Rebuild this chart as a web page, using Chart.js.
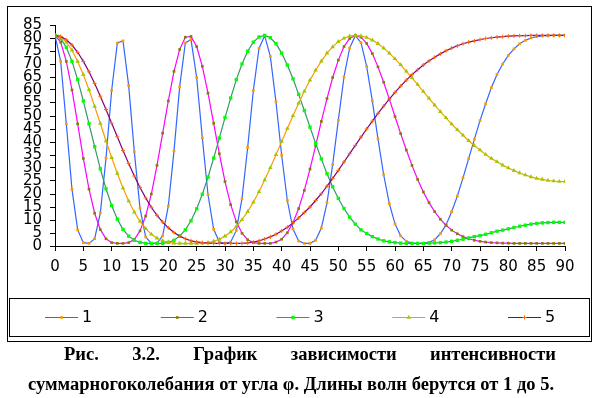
<!DOCTYPE html>
<html>
<head>
<meta charset="utf-8">
<title>Интенсивность суммарного колебания</title>
<script src="https://cdn.jsdelivr.net/npm/chart.js"></script>
<style>
  body { margin: 0; background: #fff; }
  #wrap { position: relative; width: 597px; height: 398px; overflow: hidden; }
  #box { position: absolute; left: 0; top: 0; width: 597px; height: 345px; }
  .cap { position: absolute; font-family: "Liberation Serif", "Times New Roman", serif; font-weight: bold; font-size: 18.5px; line-height: 20px; color: #000; white-space: nowrap; }
  #cap1 { left: 64px; width: 492px; top: 344px; text-align: justify; text-align-last: justify; }
  #cap2 { left: 28px; top: 374px; }
</style>
</head>
<body>
<div id="wrap">
  <div id="box"><canvas id="canvas"></canvas></div>
  <div class="cap" id="cap1">Рис. 3.2. График зависимости интенсивности</div>
  <div class="cap" id="cap2">суммарногоколебания от угла φ. Длины волн берутся от 1 до 5.</div>
</div>

<script>
// угол, градусы
const angles = [0,1,2,3,4,5,6,7,8,9,10,11,12,13,14,15,16,17,18,19,20,21,22,23,24,25,26,27,28,29,30,
  31,32,33,34,35,36,37,38,39,40,41,42,43,44,45,46,47,48,49,50,51,52,53,54,55,56,57,58,59,60,
  61,62,63,64,65,66,67,68,69,70,71,72,73,74,75,76,77,78,79,80,81,82,83,84,85,86,87,88,89,90]

const names = ['1', '2', '3', '4', '5']

// интенсивность для длин волн 1..5
const s1 = [81,71.0,46.9,21.8,6.2,1.3,1.0,2.8,12.7,33.8,
  59.9,78.1,78.9,61.7,36.2,14.6,3.5,1.0,1.1,3.9,
  15.4,36.6,61.2,78.1,79.4,64.8,41.6,19.8,6.4,1.5,
  1.0,1.5,6.0,18.2,37.9,59.8,76.0,80.9,72.9,55.4,
  34.9,17.5,6.5,1.9,1.0,1.0,2.2,6.9,16.6,31.3,
  48.4,65.0,76.2,80.9,78.2,69.1,55.8,41.2,27.4,16.3,
  8.5,3.9,1.8,1.1,1.0,1.0,1.4,2.4,4.7,8.1,
  13.2,19.2,26.2,33.6,41.0,48.2,54.7,60.9,66.0,70.0,
  73.3,75.8,77.8,79.1,80.0,80.5,80.8,80.9,81.0,81.0,81.0]

const s2 = [81,78.4,71.0,60.0,47.0,33.7,21.9,12.6,6.3,2.8,
  1.3,1.0,1.0,1.3,2.5,5.8,11.5,20.0,31.0,43.4,
  55.8,67.2,75.6,80.3,80.6,76.7,69.1,58.8,47.2,35.5,
  24.8,15.9,9.3,4.9,2.4,1.3,1.0,1.0,1.0,1.5,
  2.6,5.1,9.0,14.4,21.4,29.6,38.6,47.9,56.7,64.8,
  71.5,76.7,79.8,81.0,80.3,77.9,74.0,68.9,63.0,56.5,
  49.8,43.2,36.9,31.0,25.6,20.8,16.7,13.2,10.3,8.0,
  6.1,4.7,3.6,2.8,2.2,1.8,1.5,1.3,1.2,1.1,
  1.1,1.0,1.0,1.0,1.0,1.0,1.0,1.0,1.0,1.0,1.0]

const s3 = [81,79.8,76.4,71.0,64.0,55.8,47.0,38.2,29.7,22.0,
  15.6,10.3,6.4,3.8,2.2,1.4,1.0,1.0,1.0,1.0,
  1.4,2.2,3.8,6.2,9.7,14.3,19.9,26.5,33.8,41.5,
  49.4,56.9,64.0,70.0,74.9,78.4,80.4,81.0,80.1,77.8,
  74.2,69.6,64.3,58.3,52.1,45.7,39.4,33.5,27.8,22.8,
  18.3,14.4,11.1,8.4,6.2,4.8,3.6,2.7,2.0,1.6,
  1.3,1.1,1.0,1.0,1.0,1.0,1.1,1.2,1.3,1.5,
  1.8,2.2,2.6,3.1,3.6,4.0,4.5,5.1,5.7,6.1,
  6.6,7.1,7.6,8.0,8.4,8.7,8.9,9.0,9.1,9.1,9.1]

const s4 = [81,80.3,78.4,75.3,71.0,65.9,60.1,53.7,47.1,40.4,
  34.0,27.9,22.3,17.3,13.0,9.5,6.7,4.5,3.0,2.0,
  1.4,1.1,1.0,1.0,1.0,1.0,1.1,1.3,1.8,2.6,
  3.8,5.4,7.5,10.1,13.2,16.8,20.9,25.4,30.1,35.1,
  40.2,45.2,50.1,54.9,59.5,63.8,67.6,71.1,74.2,76.6,
  78.6,79.9,80.7,81.0,80.8,80.2,79.2,77.8,76.1,74.2,
  72.0,69.7,67.2,64.7,62.1,59.4,56.8,54.2,51.7,49.3,
  46.9,44.7,42.6,40.5,38.6,36.9,35.2,33.7,32.4,31.1,
  30.0,29.0,28.1,27.3,26.6,26.0,25.6,25.2,25.0,24.8,24.8]

const s5 = [81,80.6,79.3,77.3,74.5,71.0,67.0,62.5,57.6,52.5,
  47.2,42.0,36.7,31.7,26.9,22.5,18.5,14.9,11.8,9.2,
  7.0,5.2,3.8,2.8,2.0,1.6,1.3,1.1,1.0,1.0,
  1.0,1.0,1.0,1.0,1.2,1.5,2.0,2.7,3.5,4.5,
  5.8,7.2,8.9,10.8,12.9,15.0,17.5,20.1,23.0,26.0,
  29.1,32.3,35.5,38.7,41.9,45.0,48.0,51.0,53.8,56.5,
  59.1,61.5,63.8,65.9,67.8,69.6,71.2,72.6,73.9,75.1,
  76.1,77.0,77.8,78.4,78.9,79.4,79.8,80.1,80.3,80.5,
  80.7,80.8,80.9,80.9,81.0,81.0,81.0,81.0,81.0,81.0,81.0]

const series = [s1, s2, s3, s4, s5]

// цвет линии, цвет маркера, форма маркера
const looks = [
  { line: '#3366ff', mark: '#ff9900', shape: 'rect', r: 1.9 },
  { line: '#ff00ff', mark: '#808000', shape: 'rect', r: 1.9 },
  { line: '#339966', mark: '#00ff00', shape: 'rect', r: 2.4 },
  { line: '#ff9900', mark: '#99cc00', shape: 'triangle', r: 2.6 },
  { line: '#800080', mark: '#ff6600', shape: 'cross', r: 2.0 }
]

Chart.defaults.font.family = 'DejaVu Sans'
Chart.defaults.color = '#000'

function drawMark(ctx, lk, x, y) {
  const r = lk.r
  ctx.fillStyle = lk.mark
  ctx.strokeStyle = lk.mark
  ctx.lineWidth = 1
  ctx.beginPath()
  if (lk.shape === 'rect') {
    const h = r * Math.SQRT1_2
    ctx.rect(x - h, y - h, 2 * h, 2 * h)
    ctx.fill()
  } else if (lk.shape === 'triangle') {
    ctx.moveTo(x, y - r)
    ctx.lineTo(x + r * 0.87, y + r * 0.5)
    ctx.lineTo(x - r * 0.87, y + r * 0.5)
    ctx.closePath()
    ctx.fill()
  } else {
    ctx.moveTo(x - r, y); ctx.lineTo(x + r, y)
    ctx.moveTo(x, y - r); ctx.lineTo(x, y + r)
    ctx.stroke()
  }
}

// рамка диаграммы и легенда в стиле Excel
const frameLegend = {
  id: 'frameLegend',
  afterDraw(chart) {
    const ctx = chart.ctx
    ctx.save()
    ctx.strokeStyle = '#000'
    ctx.lineWidth = 1
    ctx.strokeRect(7.5, 6.5, 584, 335)
    ctx.strokeRect(9.5, 298.5, 580, 38)
    const y = 317.5
    chart.data.datasets.forEach((ds, i) => {
      const lk = looks[i]
      const x0 = 45 + i * 115.75
      ctx.strokeStyle = lk.line
      ctx.lineWidth = 1
      ctx.beginPath()
      ctx.moveTo(x0, y)
      ctx.lineTo(x0 + 33, y)
      ctx.stroke()
      drawMark(ctx, lk, x0 + 16.5, y)
      ctx.fillStyle = '#000'
      ctx.font = '16px "DejaVu Sans"'
      ctx.textBaseline = 'middle'
      ctx.textAlign = 'left'
      ctx.fillText(ds.label, x0 + 37, y)
    })
    ctx.restore()
  }
}

const datasets = series.map((vals, i) => ({
  label: names[i],
  data: angles.map((a, k) => ({ x: a, y: vals[k] })),
  borderColor: looks[i].line,
  borderWidth: 1.2,
  pointStyle: looks[i].shape,
  pointRadius: looks[i].r,
  pointBackgroundColor: looks[i].mark,
  pointBorderColor: looks[i].mark,
  pointBorderWidth: looks[i].shape === 'cross' ? 1 : 0,
  tension: 0,
  order: 4 - i
}))

const ctx = document.querySelector('#canvas').getContext('2d')
const chart = new Chart(ctx, {
  type: 'line',
  data: { datasets: datasets },
  options: {
    responsive: true,
    maintainAspectRatio: false,
    animation: false,
    events: [],
    layout: { padding: { left: 7, right: 32, top: 25, bottom: 0 } },
    plugins: { legend: { display: false }, tooltip: { enabled: false } },
    scales: {
      x: {
        type: 'linear',
        min: 0,
        max: 90,
        ticks: { stepSize: 5, autoSkip: false, maxRotation: 0, padding: 7, font: { size: 15 } },
        grid: { drawOnChartArea: false, drawTicks: true, tickLength: 5, color: '#000' },
        border: { display: true, color: '#000' },
        afterFit: s => { s.height = 99 }
      },
      y: {
        min: 0,
        max: 85,
        ticks: { stepSize: 5, autoSkip: false, padding: 8, font: { size: 15 } },
        grid: { drawOnChartArea: false, drawTicks: true, tickLength: 5, color: '#000' },
        border: { display: true, color: '#000' },
        afterFit: s => { s.width = 48 }
      }
    }
  },
  plugins: [frameLegend]
})
</script>
</body>
</html>
